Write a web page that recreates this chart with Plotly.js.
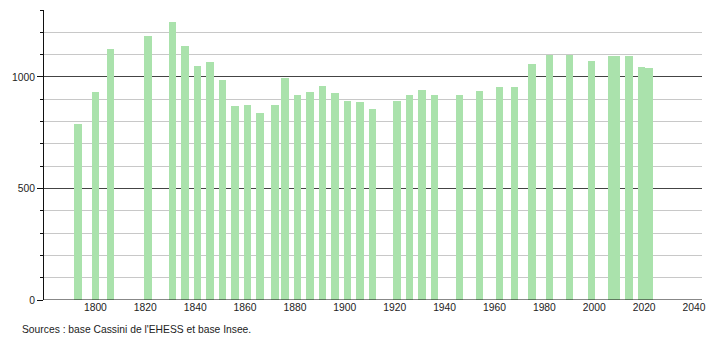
<!DOCTYPE html>
<html>
<head>
<meta charset="utf-8">
<script src="https://cdn.plot.ly/plotly-3.0.1.min.js"></script>
<style>
html,body{margin:0;padding:0;background:#fff;}
#chart{width:710px;height:340px;}
</style>
</head>
<body>
<div id="chart"></div>
<script>
var years = [1793, 1800, 1806, 1821, 1831, 1836, 1841, 1846, 1851, 1856, 1861, 1866, 1872, 1876, 1881, 1886, 1891, 1896, 1901, 1906, 1911, 1921, 1926, 1931, 1936, 1946, 1954, 1962, 1968, 1975, 1982, 1990, 1999, 2007, 2009, 2014, 2019, 2022];
var population = [787, 932, 1124, 1183, 1244, 1139, 1049, 1067, 986, 869, 872, 839, 872, 997, 921, 932, 959, 926, 891, 887, 854, 891, 921, 941, 917, 917, 936, 954, 954, 1056, 1097, 1097, 1070, 1096, 1096, 1096, 1045, 1038];
var xTickVals = [1800, 1820, 1840, 1860, 1880, 1900, 1920, 1940, 1960, 1980, 2000, 2020, 2040];
var xTickText = ["1800", "1820", "1840", "1860", "1880", "1900", "1920", "1940", "1960", "1980", "2000", "2020", "2040"];
var yTickVals = [0, 500, 1000];
var yTickText = ["0", "500", "1000"];
var sourceText = "Sources : base Cassini de l'EHESS et base Insee.";

var font = {family: "Liberation Sans, Arial, sans-serif", size: 10.3, color: "#222"};

var trace = {
  type: "bar",
  x: years,
  y: population,
  width: 3,
  marker: {color: "rgb(170,226,172)", line: {width: 0}},
  hoverinfo: "x+y"
};

var layout = {
  width: 710,
  height: 340,
  margin: {l: 44, r: 8, t: 10, b: 40},
  paper_bgcolor: "#fff",
  plot_bgcolor: "#fff",
  font: font,
  showlegend: false,
  bargap: 0,
  xaxis: {
    range: [1779.4, 2043.2],
    tickmode: "array",
    tickvals: xTickVals,
    ticktext: xTickText,
    ticks: "",
    showgrid: false,
    zeroline: false,
    showline: false,
    tickfont: font,
    fixedrange: true
  },
  yaxis: {
    range: [0, 1300],
    tickmode: "array",
    tickvals: yTickVals,
    ticktext: yTickText,
    ticks: "outside",
    ticklen: 6,
    tickcolor: "#111",
    tickwidth: 1,
    showgrid: true,
    gridcolor: "#444",
    gridwidth: 1,
    zeroline: false,
    showline: true,
    linecolor: "#111",
    linewidth: 1,
    tickfont: font,
    ticklabelstandoff: 0,
    minor: {
      dtick: 100,
      tick0: 0,
      showgrid: true,
      gridcolor: "#c8c8c8",
      gridwidth: 1,
      ticks: "outside",
      ticklen: 3,
      tickcolor: "#111",
      tickwidth: 1
    },
    fixedrange: true
  },
  shapes: [
    {type: "line", xref: "paper", yref: "y", x0: 0, x1: 1, y0: 0, y1: 0, line: {color: "#111", width: 1}, layer: "above"}
  ],
  annotations: [
    {text: sourceText, xref: "paper", yref: "paper", x: -0.0365, y: -0.103, xanchor: "left", yanchor: "middle", showarrow: false, font: font}
  ]
};

Plotly.newPlot("chart", [trace], layout, {displayModeBar: false, staticPlot: true});
</script>
</body>
</html>
